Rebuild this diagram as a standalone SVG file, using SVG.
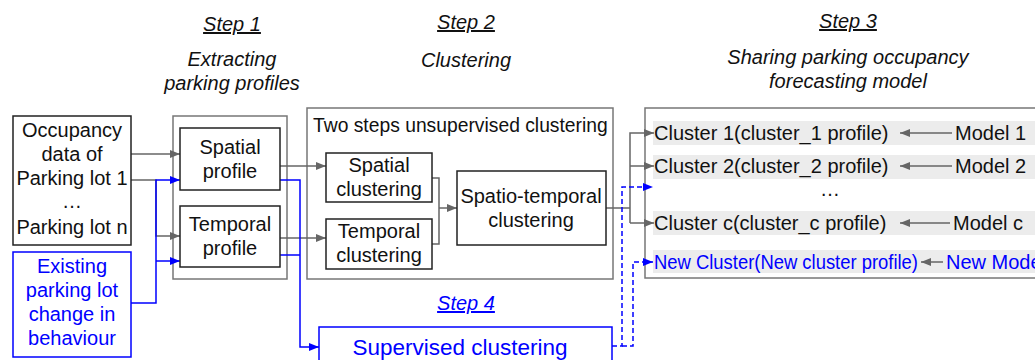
<svg xmlns="http://www.w3.org/2000/svg" width="1035" height="360" viewBox="0 0 1035 360">
<style>
text{font-family:"Liberation Sans",Arial,sans-serif;font-size:20px;fill:#111}
.t{font-style:italic;text-anchor:middle}
.u{text-decoration:underline}
.c{text-anchor:middle}
.b{fill:#0000ff}
.box{fill:#fff;stroke:#222;stroke-width:1.5}
.obox{fill:#fff;stroke:#777;stroke-width:1.5}
.bbox{fill:#fff;stroke:#0000ff;stroke-width:1.5}
.g{fill:none;stroke:#666;stroke-width:1.5}
.bl{fill:none;stroke:#0000ff;stroke-width:1.5}
.bd{fill:none;stroke:#0000ff;stroke-width:1.5;stroke-dasharray:5 3}
.row{fill:#ececec}
</style>
<defs>
<marker id="ag" viewBox="0 0 10 10" refX="10" refY="5" markerWidth="10" markerHeight="10" markerUnits="userSpaceOnUse" orient="auto"><path d="M0,1 L10,5 L0,9 z" fill="#666"/></marker>
<marker id="ab" viewBox="0 0 10 10" refX="10" refY="5" markerWidth="10" markerHeight="10" markerUnits="userSpaceOnUse" orient="auto"><path d="M0,1 L10,5 L0,9 z" fill="#0000ff"/></marker>
</defs>
<rect width="1035" height="360" fill="#fff"/>

<g id="titles">
<text class="t u" x="232" y="31">Step 1</text>
<text class="t" x="232" y="66">Extracting</text>
<text class="t" x="232" y="90">parking profiles</text>
<text class="t u" x="466" y="29">Step 2</text>
<text class="t" x="466" y="67">Clustering</text>
<text class="t u" x="848" y="28">Step 3</text>
<text class="t" x="848" y="64">Sharing parking occupancy</text>
<text class="t" x="848" y="88">forecasting model</text>
<text class="t u b" x="466" y="310">Step 4</text>
</g>

<g id="step1-box"><rect class="obox" x="173" y="116" width="114" height="163"/></g>
<g id="step2-box"><rect class="obox" x="307" y="108" width="306" height="171"/>
<text x="313" y="132" style="font-size:19.3px">Two steps unsupervised clustering</text></g>
<g id="step3-box"><rect class="obox" x="645" y="108" width="400" height="170"/>
<rect class="row" x="653" y="121" width="390" height="24"/>
<rect class="row" x="653" y="155" width="390" height="24"/>
<rect class="row" x="653" y="211" width="390" height="24"/>
<rect class="row" x="653" y="250" width="390" height="23"/>
</g>

<g id="connectors">
<path class="g" d="M131,154 H180" marker-end="url(#ag)"/>
<path class="g" d="M131,180 H156 V236 H180" marker-end="url(#ag)"/>
<path class="bl" d="M131,303 H156 V180 H180" marker-end="url(#ab)"/>
<path class="bl" d="M156,261 H180" marker-end="url(#ab)"/>
<path class="g" d="M280,166 H326" marker-end="url(#ag)"/>
<path class="g" d="M280,238 H326" marker-end="url(#ag)"/>
<path class="bl" d="M280,180 H300 V347 H319" marker-end="url(#ab)"/>
<path class="bl" d="M280,255 H300"/>
<path class="g" d="M432,178 H439 V244 H432"/>
<path class="g" d="M439,208 H457" marker-end="url(#ag)"/>
<path class="g" d="M606,208 H630"/>
<path class="g" d="M630,223 V133 H654" marker-end="url(#ag)"/>
<path class="g" d="M630,166 H654" marker-end="url(#ag)"/>
<path class="g" d="M630,223 H654" marker-end="url(#ag)"/>
<path class="bd" d="M612,346 H622 V187 H653" marker-end="url(#ab)"/>
<path class="bd" d="M622,346 H633 V262 H653" marker-end="url(#ab)"/>
<path class="g" d="M952,133 H900" marker-end="url(#ag)"/>
<path class="g" d="M952,166 H900" marker-end="url(#ag)"/>
<path class="g" d="M950,223 H900" marker-end="url(#ag)"/>
<path class="g" d="M943,262 H921" marker-end="url(#ag)"/>
</g>

<g id="occupancy"><rect class="box" x="13" y="116" width="118" height="129"/>
<text class="c" x="72" y="137">Occupancy</text>
<text class="c" x="72" y="161">data of</text>
<text class="c" x="72" y="185">Parking lot 1</text>
<text class="c" x="72" y="208">…</text>
<text class="c" x="72" y="234">Parking lot n</text></g>

<g id="existing"><rect class="bbox" x="13" y="252" width="118" height="105"/>
<text class="c b" x="72" y="273">Existing</text>
<text class="c b" x="72" y="297">parking lot</text>
<text class="c b" x="72" y="321">change in</text>
<text class="c b" x="72" y="345">behaviour</text></g>

<g id="spatial-profile"><rect class="box" x="180" y="128" width="100" height="62"/>
<text class="c" x="230" y="154">Spatial</text>
<text class="c" x="230" y="178">profile</text></g>

<g id="temporal-profile"><rect class="box" x="180" y="206" width="100" height="61"/>
<text class="c" x="230" y="231">Temporal</text>
<text class="c" x="230" y="255">profile</text></g>

<g id="spatial-clustering"><rect class="box" x="326" y="153" width="106" height="49"/>
<text class="c" x="379" y="172">Spatial</text>
<text class="c" x="379" y="196">clustering</text></g>

<g id="temporal-clustering"><rect class="box" x="326" y="219" width="106" height="50"/>
<text class="c" x="379" y="238">Temporal</text>
<text class="c" x="379" y="262">clustering</text></g>

<g id="spatio-temporal"><rect class="box" x="457" y="171" width="149" height="74"/>
<text class="c" x="531" y="203">Spatio-temporal</text>
<text class="c" x="531" y="227">clustering</text></g>

<g id="supervised"><rect class="bbox" x="319" y="327" width="293" height="40"/>
<text class="c b" x="460" y="355" style="font-size:22.5px">Supervised clustering</text></g>

<g id="clusters">
<text x="654" y="140">Cluster 1(cluster_1 profile)</text>
<text x="955" y="140">Model 1</text>
<text x="654" y="173">Cluster 2(cluster_2 profile)</text>
<text x="955" y="173">Model 2</text>
<text class="c" x="830" y="196">…</text>
<text x="654" y="230">Cluster c(cluster_c profile)</text>
<text x="953" y="230">Model c</text>
<text class="b" x="654" y="269" textLength="264" lengthAdjust="spacingAndGlyphs">New Cluster(New cluster profile)</text>
<text class="b" x="946" y="269">New Model</text>
</g>
</svg>
